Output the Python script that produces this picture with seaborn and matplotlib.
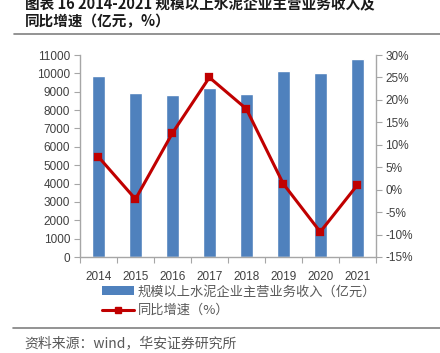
import matplotlib
matplotlib.use("Agg")
import matplotlib.pyplot as plt
import seaborn as sns
import pandas as pd
from matplotlib.lines import Line2D
from matplotlib.patches import Patch
from matplotlib.ticker import FuncFormatter, MultipleLocator

sns.set_theme(style="white")
plt.rcParams['font.family'] = ['Liberation Sans', 'Noto Sans CJK SC', 'DejaVu Sans']

years = ["2014", "2015", "2016", "2017", "2018", "2019", "2020", "2021"]
revenue = [9850, 8950, 8800, 9180, 8880, 10130, 10000, 10780]
growth = [7.3, -2.1, 12.6, 25.0, 18.0, 1.3, -9.4, 1.0]

title_l1 = "图表 16 2014-2021 规模以上水泥企业主营业务收入及"
title_l2 = "同比增速（亿元，%）"
bar_label = "规模以上水泥企业主营业务收入（亿元）"
line_label = "同比增速（%）"
source = "资料来源：wind，华安证券研究所"

df = pd.DataFrame({"year": years, "revenue": revenue, "growth": growth})

bar_color = "#4F81BD"
line_color = "#C00000"
spine_color = "#A6A6A6"
text_color = "#404040"
cjk = ['Noto Sans CJK SC', 'DejaVu Sans']

fig = plt.figure(figsize=(4.4, 3.53), dpi=100)
ax = fig.add_axes([80/440, 1-257/353, (375.7-80)/440, (257-55)/353])

sns.barplot(data=df, x="year", y="revenue", color=bar_color, width=0.36,
            saturation=1, ax=ax)
ax.set_ylim(0, 11000)
ax.yaxis.set_major_locator(MultipleLocator(1000))
ax.set_xlabel("")
ax.set_ylabel("")
ax.set_xlim(-0.5, 7.5)

ax2 = ax.twinx()
sns.pointplot(data=df, x="year", y="growth", color=line_color, markers="s",
              markersize=5, linewidth=2.2, ax=ax2)
ax2.set_ylim(-15, 30)
ax2.yaxis.set_major_locator(MultipleLocator(5))
ax2.yaxis.set_major_formatter(FuncFormatter(lambda v, p: f"{int(round(v))}%"))
ax2.set_xlabel("")
ax2.set_ylabel("")
ax2.set_xlim(-0.5, 7.5)

for a in (ax, ax2):
    for s in a.spines.values():
        s.set_visible(False)
    a.grid(False)
ax.spines['left'].set_visible(True)
ax.spines['bottom'].set_visible(True)
ax2.spines['right'].set_visible(True)
for s in (ax.spines['left'], ax.spines['bottom'], ax2.spines['right']):
    s.set_color(spine_color)
    s.set_linewidth(1.0)

ax.tick_params(axis='y', which='major', left=True, length=4, width=0.8,
               color=spine_color, labelsize=8.5, labelcolor=text_color, pad=3)
ax2.tick_params(axis='y', which='major', right=True, length=4, width=0.8,
                color=spine_color, labelsize=8.5, labelcolor=text_color, pad=3)
# x ticks between categories
ax.tick_params(axis='x', which='major', bottom=False, labelsize=8.5,
               labelcolor=text_color, pad=4)
ax.set_xticks(range(len(years)))
ax.set_xticklabels(years)
ax.set_xticks([i + 0.5 for i in range(-1, len(years))], minor=True)
ax.tick_params(axis='x', which='minor', bottom=True, length=4, width=0.8,
               color=spine_color)

handles = [Patch(facecolor=bar_color, edgecolor='none', label=bar_label),
           Line2D([0], [0], color=line_color, lw=2.2, marker='s', markersize=5,
                  label=line_label)]
leg = fig.legend(handles=handles, loc='upper left',
                 bbox_to_anchor=(97/440, 1-280/353), frameon=False,
                 prop={'family': cjk, 'size': 9.5}, handlelength=2.4,
                 handletextpad=0.3, labelspacing=0.45, borderaxespad=0)
for t in leg.get_texts():
    t.set_color("#595959")

fig.text(25/440, 1-4/353, title_l1, family=cjk, fontsize=10.5,
         fontweight='bold', color="#1a1a1a", va='center', ha='left')
fig.text(25/440, 1-21/353, title_l2, family=cjk, fontsize=10.5,
         fontweight='bold', color="#1a1a1a", va='center', ha='left')
fig.add_artist(Line2D([14/440, 1], [1-34/353, 1-34/353], color="#808080",
                      lw=1.2, transform=fig.transFigure))
fig.add_artist(Line2D([13/440, 1], [1-328/353, 1-328/353], color="#808080",
                      lw=1.2, transform=fig.transFigure))
fig.text(24/440, 1-343/353, source, family=cjk, fontsize=10,
         color="#595959", va='center', ha='left')

fig.savefig("out.png", dpi=100)
